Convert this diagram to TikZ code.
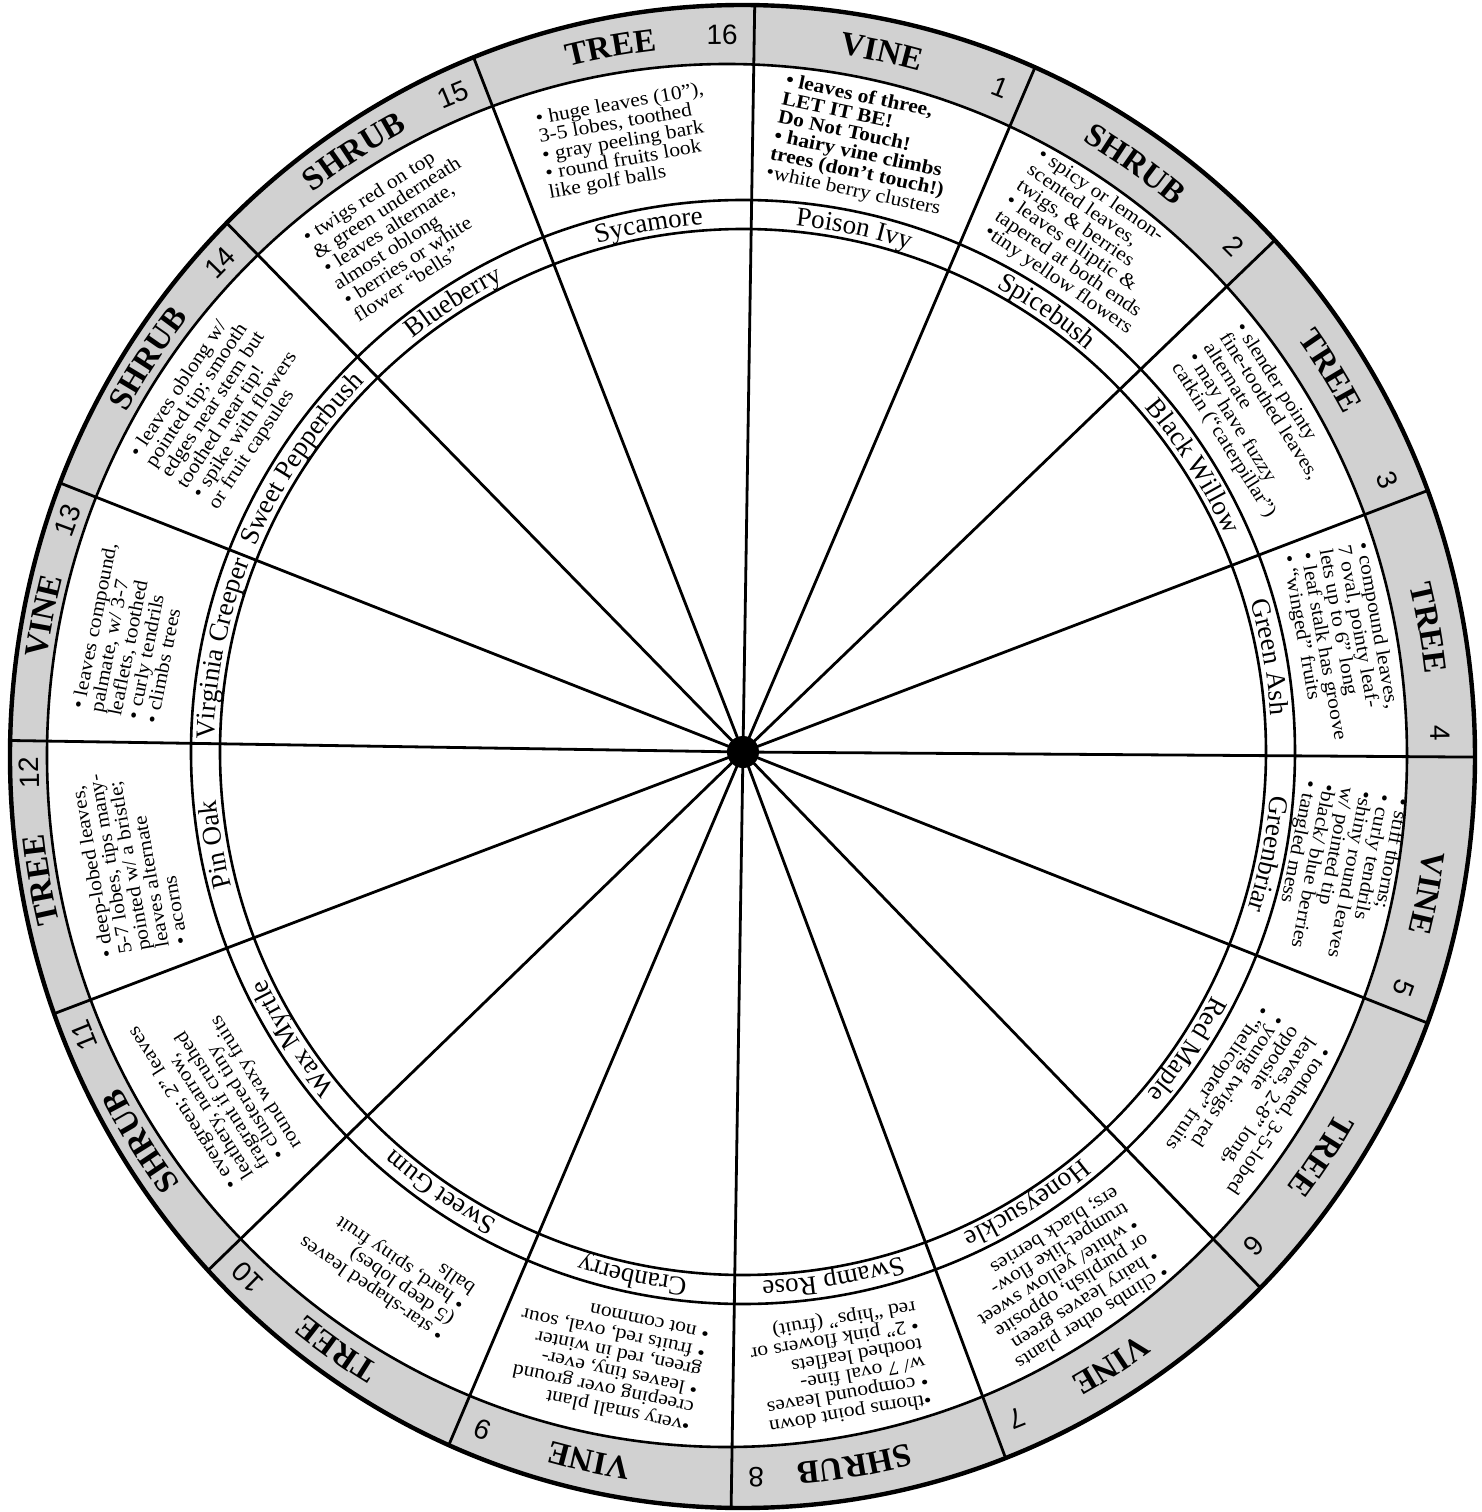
\documentclass[tikz,border=0pt]{standalone}
\usepackage{fontspec}
\usetikzlibrary{decorations.text,calc}
\newfontfamily\bodyfont[FakeStretch=1.1,Ligatures=TeX]{Liberation Serif}
\newfontfamily\catfont[Ligatures=TeX]{Liberation Serif}
\newfontfamily\numfont{Liberation Sans}
\newcommand\catstyle{\catfont\bfseries\fontsize{16.5}{16.5}\selectfont}
\newcommand\namestyle{\catfont\fontsize{13.5}{13.5}\selectfont}
\definecolor{bandgray}{gray}{0.82}

% #1 start angle, #2 end angle, #3 category, #4 name, #5 number, #6 body
\newcommand\plantsector[6]{%
  \pgfmathsetmacro\midang{(#1+#2)/2}%
  \pgfmathsetmacro\rotang{\midang-90}%
  \pgfmathsetmacro\numang{#2+1.3}%
  \pgfmathsetmacro\numrot{\numang-90}%
  \pgfmathsetmacro\numrad{veclen(-8+706*cos(\numang),-4+721.5*sin(\numang))}%
  \path[decorate,decoration={text along path,text align=center,text={|\catstyle|#3}}]
     ([shift={(-8,-4)}]#1:695 and 710) arc[start angle=#1,end angle=#2,x radius=695,y radius=710];
  \path[decorate,decoration={text along path,text align=center,text={|\namestyle|#4}}]
     (#1:529) arc[start angle=#1,end angle=#2,radius=529];
  \node[numlabel,rotate=\numrot] (num#5) at (\numang:\numrad) {#5};
  \node[bodytext,rotate=\rotang] (body#5) at ($.5*(\midang:552)+.5*(\midang:680 and 691.5)+(-8,-1.75)$) {#6};
}

\begin{document}
\begin{tikzpicture}[x=1pt,y=1pt,scale=0.5,
  spoke/.style={line width=1.4pt,black},
  ring/.style={line width=1.3pt,black},
  rim/.style={line width=2.2pt,black},
  bodytext/.style={font=\bodyfont\fontsize{9.8}{9.4}\selectfont,align=left,inner sep=0pt},
  numlabel/.style={font=\numfont\fontsize{14}{14}\selectfont,anchor=east,inner sep=0pt},
  hubdot/.style={circle,fill=black,inner sep=0pt,minimum size=16pt}]
\useasboundingbox (-743,-760) rectangle (739,752);
\fill[white] (-743,-760) rectangle (739,752);
\fill[bandgray,even odd rule] (-0.5,-4.5) ellipse[x radius=732.5,y radius=751.5]
  (-16,-3.5) ellipse[x radius=680,y radius=691.5];
\coordinate (c) at (0,0);
\begin{scope}
  \clip (-0.5,-4.5) ellipse[x radius=732.5,y radius=751.5];
  \foreach \b in {89.1,66.9,43.9,20.9,-0.4,-21.6,-46.0,-69.6,-90.9,-113.0,-135.9,-159.2,-180.9,-201.5,-225.7,-248.8}
    \draw[spoke] (c) -- (\b:800);
\end{scope}
\draw[ring] (-16,-3.5) ellipse[x radius=680,y radius=691.5];
\draw[ring] (c) circle[radius=552];
\draw[ring] (c) circle[radius=523];
\draw[rim] (-0.5,-4.5) ellipse[x radius=732.5,y radius=751.5];
\node[hubdot] (hub) at (c) {};

\plantsector{89.1}{66.9}{VINE}{Poison Ivy}{1}{\textbf{• leaves of three,}\\ \textbf{LET IT BE!}\\ \textbf{Do Not Touch!}\\ \textbf{• hairy vine climbs}\\ \textbf{trees (don't touch!)}\\ •white berry clusters}
\plantsector{66.9}{43.9}{SHRUB}{Spicebush}{2}{• spicy or lemon-\\ scented leaves,\\ twigs, \& berries\\ • leaves elliptic \&\\ tapered at both ends\\ •tiny yellow flowers}
\plantsector{43.9}{20.9}{TREE}{Black Willow}{3}{• slender pointy\\ fine-toothed leaves,\\ alternate\\ • may have fuzzy\\ catkin (``caterpillar'')}
\plantsector{20.9}{-0.4}{TREE}{Green Ash}{4}{• compound leaves,\\ 7 oval, pointy leaf-\\ lets up to 6" long\\ • leaf stalk has groove\\ • ``winged'' fruits}
\plantsector{-0.4}{-21.6}{VINE}{Greenbriar}{5}{• stiff thorns;\\ • curly tendrils\\ •shiny round leaves\\ w/ pointed tip\\ •black/ blue berries\\ • tangled mess}
\plantsector{-21.6}{-46.0}{TREE}{Red Maple}{6}{• toothed, 3-5-lobed\\ leaves, 2-8" long,\\ opposite\\ • young twigs red\\ • ``helicopter'' fruits}
\plantsector{-46.0}{-69.6}{VINE}{Honeysuckle}{7}{• climbs other plants\\ • hairy leaves green\\ or purplish, opposite\\ • white/ yellow sweet\\ trumpet-like flow-\\ ers; black berries}
\plantsector{-69.6}{-90.9}{SHRUB}{Swamp Rose}{8}{•thorns point down\\ • compound leaves\\ w/ 7 oval fine-\\ toothed leaflets\\ • 2" pink flowers or\\ red ``hips'' (fruit)}
\plantsector{-90.9}{-113.0}{VINE}{Cranberry}{9}{•very small plant\\ creeping over ground\\ • leaves tiny, ever-\\ green, red in winter\\ • fruits red, oval, sour\\ • not common}
\plantsector{-113.0}{-135.9}{TREE}{Sweet Gum}{10}{• star-shaped leaves\\ (5 deep lobes)\\ • hard, spiny fruit\\ balls}
\plantsector{-135.9}{-159.2}{SHRUB}{Wax Myrtle}{11}{• evergreen; 2" leaves\\ leathery, narrow,\\ fragrant if crushed\\ • clustered tiny\\ round waxy fruits}
\plantsector{-159.2}{-180.9}{TREE}{Pin Oak}{12}{• deep-lobed leaves,\\ 5-7 lobes, tips many-\\ pointed w/ a bristle;\\ leaves alternate\\ • acorns}
\plantsector{-180.9}{-201.5}{VINE}{Virginia Creeper}{13}{• leaves compound,\\ palmate, w/ 3-7\\ leaflets, toothed\\ • curly tendrils\\ • climbs trees}
\plantsector{-201.5}{-225.7}{SHRUB}{Sweet Pepperbush}{14}{• leaves oblong w/\\ pointed tip; smooth\\ edges near stem but\\ toothed near tip!\\ • spike with flowers\\ or fruit capsules}
\plantsector{-225.7}{-248.8}{SHRUB}{Blueberry}{15}{• twigs red on top\\ \& green underneath\\ • leaves alternate,\\ almost oblong\\ • berries or white\\ flower ``bells''}
\plantsector{-248.8}{-270.9}{TREE}{Sycamore}{16}{• huge leaves (10"),\\ 3-5 lobes, toothed\\ • gray peeling bark\\ • round fruits look\\ like golf balls}
\end{tikzpicture}
\end{document}
